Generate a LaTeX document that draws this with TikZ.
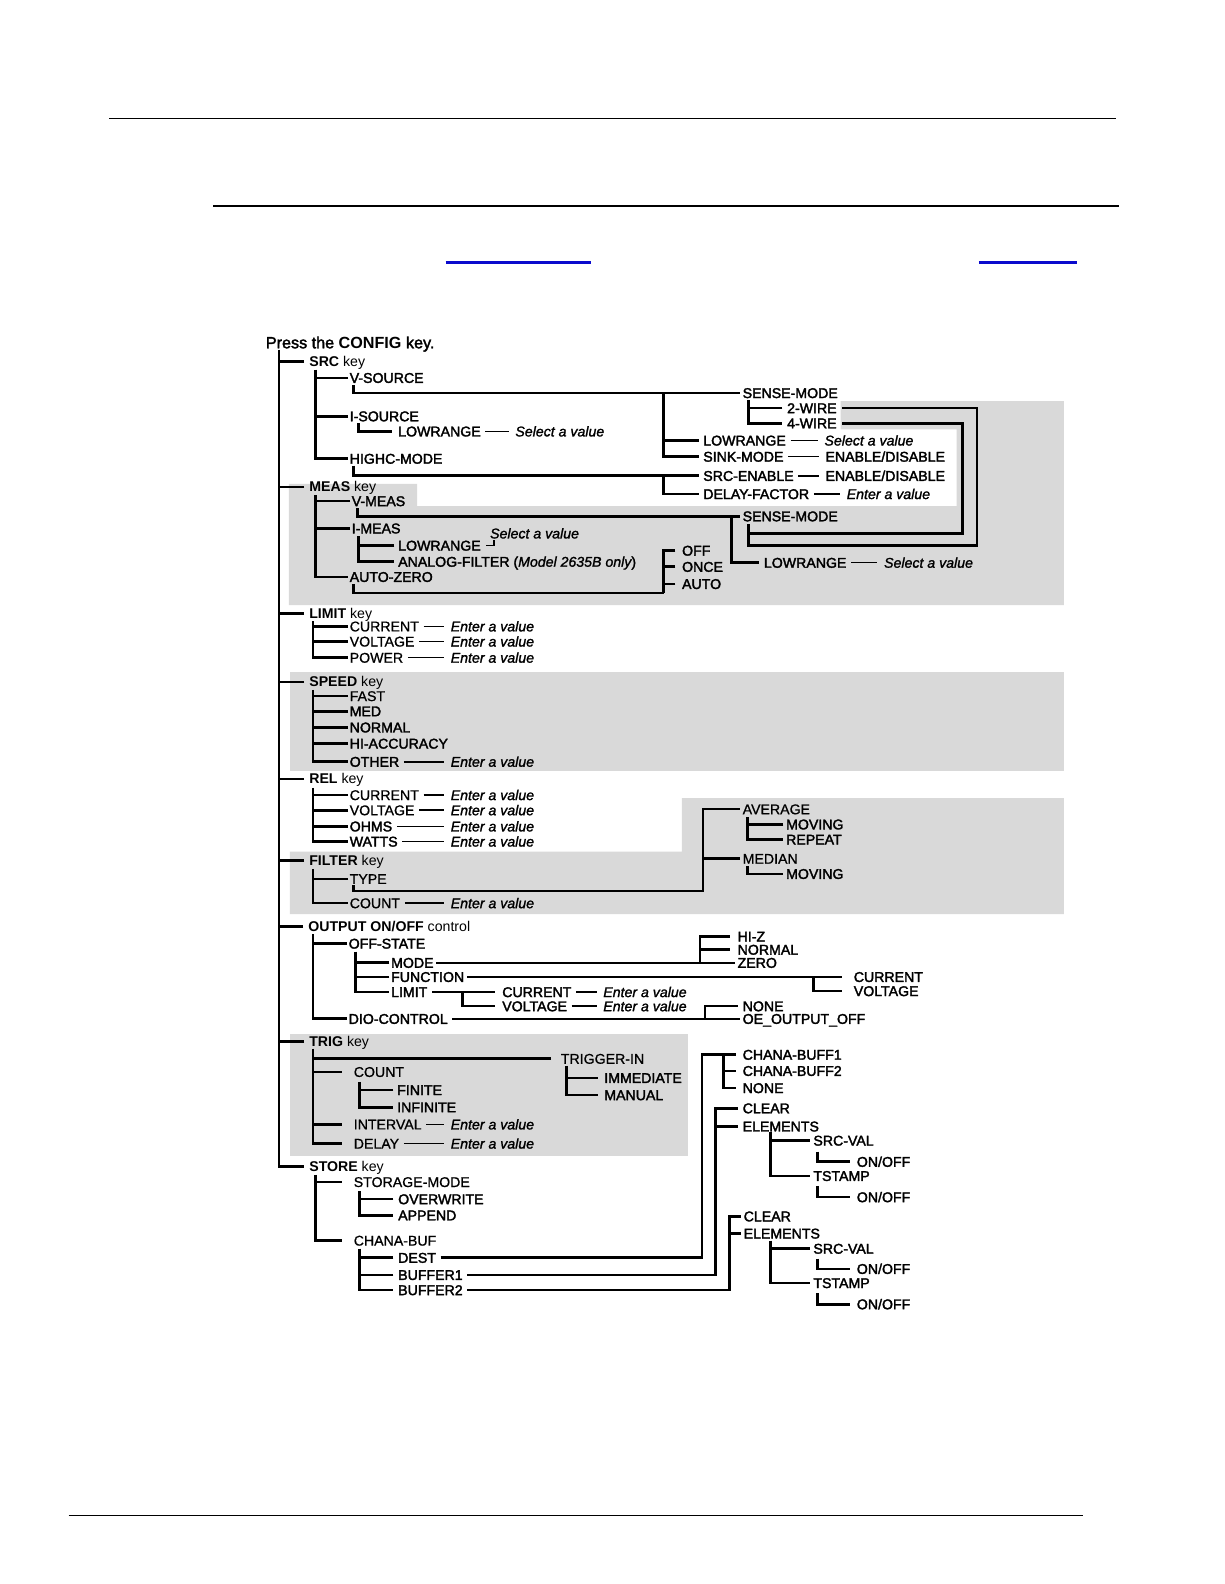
\documentclass[tikz,border=0pt]{standalone}
\usepackage{fontspec}
\usetikzlibrary{calc}
\newfontfamily\rfam[FakeBold=0.8]{Liberation Sans}
\newfontfamily\kfam{Liberation Sans}
\newfontfamily\mfam[FakeBold=2.2]{Liberation Sans}
\newfontfamily\ifam[FakeBold=1.4]{Liberation Sans}
\newcommand\myfs{\fontsize{14}{16}\selectfont}
\definecolor{boxgray}{RGB}{217,217,217}
\definecolor{linkblue}{RGB}{10,10,205}
\tikzset{
  lab/.style={anchor=west, inner xsep=1.5pt, inner ysep=0pt, text height=10pt, text depth=0pt, font=\mfam\myfs},
  tx/.style={lab, font=\rfam\myfs},
  it/.style={lab, font=\ifam\itshape\myfs},
  kn/.style={lab, inner xsep=5pt, font=\kfam\myfs},
  tl/.style={line width=2.6pt, line join=miter},
  ml/.style={line width=2pt},
  dl/.style={line width=1.6pt, shorten <=3pt, shorten >=5pt},
  mk/.style={line width=1.6pt},
  rl/.style={line width=1.3pt}
}
\begin{document}
\begin{tikzpicture}[x=1pt,y=-1pt]
\useasboundingbox (0,0) rectangle (1212,1568);
\fill[white] (0,0) rectangle (1212,1568);
% gray panels
\fill[boxgray] (286,479) -- (413,479) -- (413,501) -- (947,501) -- (947,425) -- (832,425) -- (832,397) -- (1053,397) -- (1053,599) -- (286,599) -- cycle;
\fill[boxgray] (287,665) rectangle (1053,763);
\fill[boxgray] (287,843) -- (675,843) -- (675,790) -- (1053,790) -- (1053,905) -- (287,905) -- cycle;
\fill[boxgray] (287,1024) rectangle (681,1144);
% page rules
\coordinate (r1a) at (108,117); \coordinate (r1b) at (1105,117);
\coordinate (r2a) at (211,204); \coordinate (r2b) at (1108,204);
\coordinate (r3a) at (68,1500); \coordinate (r3b) at (1072,1500);
\draw[rl] (r1a) -- (r1b);
\draw[rl] (r2a) -- (r2b);
\draw[rl] (r3a) -- (r3b);
\coordinate (b1a) at (441,260); \coordinate (b1b) at (585,260);
\coordinate (b2a) at (969,260); \coordinate (b2b) at (1066,260);
\draw[line width=2.4pt, linkblue] (b1a) -- (b1b);
\draw[line width=2.4pt, linkblue] (b2a) -- (b2b);

% title and main spine
\node[lab, font=\mfam\fontsize{16}{18}\selectfont, text height=11.5pt] (title) at (261.5,339) {Press the {\kfam\bfseries CONFIG} key.};
\node[kn] (src) at (301,358) {\textbf{SRC} key};
\node[kn] (meas) at (301,482) {\textbf{MEAS} key};
\node[kn] (limit) at (301,607) {\textbf{LIMIT} key};
\node[kn] (speed) at (301,675) {\textbf{SPEED} key};
\node[kn] (rel) at (301,771) {\textbf{REL} key};
\node[kn] (filt) at (301,852) {\textbf{FILTER} key};
\node[kn] (outp) at (300,917) {\textbf{OUTPUT ON/OFF} control};
\node[kn] (trig) at (301,1031) {\textbf{TRIG} key};
\node[kn] (store) at (301,1155) {\textbf{STORE} key};
\coordinate (sp0) at (276,346);
\draw[tl] (sp0) |- (store.west);
\foreach \k in {src,meas,limit,speed,rel,filt,outp,trig} {\draw[tl] (\k.west) -- (\k.west -| sp0);}

% ---------- SRC ----------
\node[lab] (vsrc) at (344.5,374) {V-SOURCE};
\node[lab] (isrc) at (344.5,412) {I-SOURCE};
\node[lab] (hcm) at (344.5,454) {HIGHC-MODE};
\coordinate (s1) at (312,366);
\draw[tl] (s1) |- (hcm.west);
\draw[tl] (vsrc.west) -- (vsrc.west -| s1);
\draw[tl] (isrc.west) -- (isrc.west -| s1);
\node[lab] (lrA) at (392.5,427) {LOWRANGE};
\node[it] (svA) at (508.5,427) {Select a value};
\draw[tl] ([xshift=10.5pt,yshift=-7pt]isrc.west) |- ([xshift=-4pt]lrA.west);
\draw[dl] (lrA.east) -- (svA.west);

\node[lab] (smA) at (733.5,389) {SENSE-MODE};
\draw[tl] ([xshift=5.5pt,yshift=-7pt]vsrc.west) |- ([xshift=-1pt]smA.west);
\node[lab] (w2) at (777.5,404) {2-WIRE};
\node[lab] (w4) at (777.5,419) {4-WIRE};
\coordinate (jA) at (741,396);
\draw[tl] (jA) |- ([xshift=-3pt]w4.west);
\draw[tl] ([xshift=-3pt]w2.west) -- (w2.west -| jA);
\node[lab] (lrB) at (694.5,436) {LOWRANGE};
\node[it] (svB) at (814.5,436) {Select a value};
\node[lab] (skm) at (694.5,452) {SINK-MODE};
\node[lab] (edA) at (815.5,452) {ENABLE/DISABLE};
\node[lab] (sen) at (694.5,471) {SRC-ENABLE};
\node[lab] (edB) at (815.5,471) {ENABLE/DISABLE};
\node[lab] (dfc) at (694.5,489) {DELAY-FACTOR};
\node[it] (evA) at (836.5,489) {Enter a value};
\coordinate (jB) at (657,389);
\draw[tl] (jB) |- ([xshift=-3pt]skm.west);
\draw[tl] ([xshift=-3pt]lrB.west) -- (lrB.west -| jB);
\draw[dl] (lrB.east) -- (svB.west);
\draw[dl] (skm.east) -- (edA.west);
\draw[dl] (sen.east) -- (edB.west);
\draw[dl] (dfc.east) -- (evA.west);
\draw[tl] ([xshift=5.5pt,yshift=-7pt]hcm.west) |- ([xshift=-3pt]sen.west);
\coordinate (jC) at (657,471);
\draw[tl] (jC) |- ([xshift=-3pt]dfc.west);

\node[lab] (smB) at (733.5,511) {SENSE-MODE};
\coordinate (lA) at (967,540);
\coordinate (lB) at (953,528);
\coordinate (jD) at (741,519);
\draw[tl] ([xshift=4pt]w2.east) -| (lA) -| (jD);
\draw[tl] ([xshift=4pt]w4.east) -| (lB) -- (lB -| jD);

% ---------- MEAS ----------
\node[lab] (vms) at (346.5,496) {V-MEAS};
\node[lab] (ims) at (346.5,523) {I-MEAS};
\node[lab] (azr) at (344.5,571) {AUTO-ZERO};
\coordinate (s2) at (312,490);
\draw[tl] (s2) |- (azr.west);
\draw[tl] (vms.west) -- (vms.west -| s2);
\draw[tl] (ims.west) -- (ims.west -| s2);
\draw[tl] ([xshift=7.5pt,yshift=-7pt]vms.west) |- ([xshift=-1pt]smB.west);
\coordinate (jE) at (724,511);
\node[lab] (lrC) at (754.5,557) {LOWRANGE};
\node[it] (svC) at (873.5,557) {Select a value};
\draw[tl] (jE) |- ([xshift=-3pt]lrC.west);
\draw[dl] (lrC.east) -- (svC.west);
\node[lab] (lrD) at (392.5,540) {LOWRANGE};
\node[lab] (afl) at (392.5,556) {ANALOG-FILTER ({\ifam\itshape Model 2635B only})};
\coordinate (jF) at (355,531);
\draw[tl] (jF) |- ([xshift=-2pt]afl.west);
\draw[tl] ([xshift=-2pt]lrD.west) -- (lrD.west -| jF);
\node[it] (svD) at (483.5,528) {Select a value};
\draw[mk] ([xshift=4pt]lrD.east) -| ([xshift=5.5pt,yshift=-1pt]svD.south west);
\node[lab] (off) at (673.5,545) {OFF};
\node[lab] (once) at (673.5,561) {ONCE};
\node[lab] (aut) at (673.5,578) {AUTO};
\coordinate (jG) at (657,587);
\draw[tl] ([xshift=-5pt]off.west) -| (jG);
\draw[tl] ([xshift=-5pt]once.west) -- (once.west -| jG);
\draw[tl] ([xshift=-5pt]aut.west) -- (aut.west -| jG);
\draw[tl] ([xshift=5.5pt,yshift=-7pt]azr.west) |- (jG);

% ---------- LIMIT ----------
\coordinate (s3) at (310,615);
\node[tx] (lcu) at (344.5,620) {CURRENT};
\node[tx] (lvo) at (344.5,635) {VOLTAGE};
\node[tx] (lpw) at (344.5,651) {POWER};
\draw[tl] (s3) |- (lpw.west);
\draw[tl] (lcu.west) -- (lcu.west -| s3);
\draw[tl] (lvo.west) -- (lvo.west -| s3);
\node[it] (le1) at (444.5,620) {Enter a value};
\node[it] (le2) at (444.5,635) {Enter a value};
\node[it] (le3) at (444.5,651) {Enter a value};
\draw[dl] (lcu.east) -- (le1.west);
\draw[dl] (lvo.east) -- (le2.west);
\draw[dl] (lpw.east) -- (le3.west);

% ---------- SPEED ----------
\coordinate (s4) at (310,683);
\node[tx] (fast) at (344.5,689) {FAST};
\node[lab] (med) at (344.5,704) {MED};
\node[lab] (nrml) at (344.5,720) {NORMAL};
\node[lab] (hacc) at (344.5,736) {HI-ACCURACY};
\node[lab] (oth) at (344.5,754) {OTHER};
\node[it] (le4) at (444.5,754) {Enter a value};
\draw[tl] (s4) |- (oth.west);
\foreach \k in {fast,med,nrml,hacc} {\draw[tl] (\k.west) -- (\k.west -| s4);}
\draw[dl] (oth.east) -- (le4.west);

% ---------- REL ----------
\coordinate (s5) at (310,780);
\node[tx] (rcu) at (344.5,787) {CURRENT};
\node[tx] (rvo) at (344.5,802) {VOLTAGE};
\node[lab] (roh) at (344.5,818) {OHMS};
\node[lab] (rwa) at (344.5,833) {WATTS};
\draw[tl] (s5) |- (rwa.west);
\foreach \k in {rcu,rvo,roh} {\draw[tl] (\k.west) -- (\k.west -| s5);}
\node[it] (le5) at (444.5,787) {Enter a value};
\node[it] (le6) at (444.5,802) {Enter a value};
\node[it] (le7) at (444.5,818) {Enter a value};
\node[it] (le8) at (444.5,833) {Enter a value};
\draw[dl] (rcu.east) -- (le5.west);
\draw[dl] (rvo.east) -- (le6.west);
\draw[dl] (roh.east) -- (le7.west);
\draw[dl] (rwa.east) -- (le8.west);

% ---------- FILTER ----------
\coordinate (s6) at (310,860);
\node[tx] (typ) at (344.5,870) {TYPE};
\node[tx] (fcn) at (344.5,894) {COUNT};
\node[it] (le9) at (444.5,894) {Enter a value};
\draw[tl] (s6) |- (fcn.west);
\draw[tl] (typ.west) -- (typ.west -| s6);
\draw[dl] (fcn.east) -- (le9.west);
\node[tx] (avg) at (733.5,801) {AVERAGE};
\node[lab] (mv1) at (776.5,816) {MOVING};
\node[lab] (rpt) at (776.5,831) {REPEAT};
\node[tx] (mdn) at (733.5,850) {MEDIAN};
\node[lab] (mv2) at (776.5,865) {MOVING};
\coordinate (jH) at (696,882);
\draw[tl] ([xshift=5.5pt,yshift=-6pt]typ.west) |- (jH) |- ([xshift=-1pt]avg.west);
\draw[tl] ([xshift=-1pt]mdn.west) -- (mdn.west -| jH);
\coordinate (jI) at (740,809);
\draw[tl] (jI) |- ([xshift=-1pt]rpt.west);
\draw[tl] ([xshift=-1pt]mv1.west) -- (mv1.west -| jI);
\coordinate (jJ) at (740,857);
\draw[tl] (jJ) |- ([xshift=-1pt]mv2.west);

% ---------- OUTPUT ----------
\coordinate (s7) at (310,925);
\node[lab] (ofs) at (343.5,934) {OFF-STATE};
\node[lab] (dio) at (343.5,1008.5) {DIO-CONTROL};
\draw[tl] (s7) |- (dio.west);
\draw[tl] (ofs.west) -- (ofs.west -| s7);
\coordinate (jK) at (352,942);
\node[lab] (mode) at (385.5,953) {MODE};
\node[lab] (func) at (385.5,967) {FUNCTION};
\node[lab] (olm) at (385.5,982) {LIMIT};
\draw[tl] (jK) |- (olm.west);
\draw[tl] (mode.west) -- (mode.west -| jK);
\draw[tl] (func.west) -- (func.west -| jK);
\node[lab] (hiz) at (728.5,927) {HI-Z};
\node[lab] (nrm) at (728.5,940) {NORMAL};
\node[lab] (zro) at (728.5,953) {ZERO};
\draw[ml] ([xshift=1pt]mode.east) -- ([xshift=-1pt]zro.west);
\coordinate (jL) at (693,953);
\draw[tl] ([xshift=-6pt]hiz.west) -| (jL);
\draw[tl] ([xshift=-6pt]nrm.west) -- (nrm.west -| jL);
\node[lab] (ocu) at (843.5,967) {CURRENT};
\node[lab] (ovo) at (843.5,981) {VOLTAGE};
\draw[ml] ([xshift=1pt]func.east) -- ([xshift=-10pt]ocu.west);
\coordinate (jM) at (805,967);
\draw[tl] (jM) |- ([xshift=-10pt]ovo.west);
\node[lab] (lcu2) at (495.5,982) {CURRENT};
\node[lab] (lvo2) at (495.5,996) {VOLTAGE};
\draw[ml] ([xshift=3pt]olm.east) -- ([xshift=-6pt]lcu2.west);
\coordinate (jN) at (458,982);
\draw[tl] (jN) |- ([xshift=-6pt]lvo2.west);
\node[it] (le10) at (595.5,982) {Enter a value};
\node[it] (le11) at (595.5,996) {Enter a value};
\draw[dl] (lcu2.east) -- (le10.west);
\draw[dl] (lvo2.east) -- (le11.west);
\node[lab] (nne) at (733.5,996) {NONE};
\node[lab] (oeo) at (733.5,1008.5) {OE\_OUTPUT\_OFF};
\draw[ml] ([xshift=3pt]dio.east) -- ([xshift=-1pt]oeo.west);
\coordinate (jO) at (698,1008.5);
\draw[tl] ([xshift=-3pt]nne.west) -| (jO);

% ---------- TRIG ----------
\coordinate (s8) at (310,1038);
\node[tx] (tri) at (553.5,1048) {TRIGGER-IN};
\node[tx] (cnt) at (348.5,1061) {COUNT};
\node[tx] (itv) at (348.5,1113) {INTERVAL};
\node[tx] (dly) at (348.5,1132) {DELAY};
\draw[tl, shorten >=10pt] (s8) |- (dly.west);
\draw[tl, shorten <=8pt] (tri.west) -- (tri.west -| s8);
\draw[tl, shorten <=10pt] (cnt.west) -- (cnt.west -| s8);
\draw[tl, shorten <=10pt] (itv.west) -- (itv.west -| s8);
\node[lab] (fin) at (391.5,1079) {FINITE};
\node[lab] (inf) at (391.5,1096) {INFINITE};
\coordinate (jP) at (356,1071);
\draw[tl] (jP) |- ([xshift=-2pt]inf.west);
\draw[tl] ([xshift=-2pt]fin.west) -- (fin.west -| jP);
\node[it] (le12) at (444.5,1113) {Enter a value};
\node[it] (le13) at (444.5,1132) {Enter a value};
\draw[dl] (itv.east) -- (le12.west);
\draw[dl] (dly.east) -- (le13.west);
\node[lab] (imm) at (596.5,1067) {IMMEDIATE};
\node[lab] (man) at (596.5,1084) {MANUAL};
\coordinate (jQ) at (561,1055);
\draw[tl] (jQ) |- ([xshift=-5pt]man.west);
\draw[tl] ([xshift=-5pt]imm.west) -- (imm.west -| jQ);

% ---------- STORE ----------
\coordinate (s9) at (312,1163);
\node[tx] (stm) at (348.5,1170) {STORAGE-MODE};
\node[tx] (chb) at (348.5,1228) {CHANA-BUF};
\draw[tl, shorten >=10pt] (s9) |- (chb.west);
\draw[tl, shorten <=10pt] (stm.west) -- (stm.west -| s9);
\node[lab] (ovw) at (392.5,1187) {OVERWRITE};
\node[lab] (apd) at (392.5,1203) {APPEND};
\coordinate (jR) at (356,1179);
\draw[tl] (jR) |- ([xshift=-3pt]apd.west);
\draw[tl] ([xshift=-3pt]ovw.west) -- (ovw.west -| jR);
\node[lab] (dst) at (392.5,1245) {DEST};
\node[lab] (bfa) at (392.5,1262) {BUFFER1};
\node[lab] (bfb) at (392.5,1277) {BUFFER2};
\coordinate (jS) at (356,1236);
\draw[tl] (jS) |- ([xshift=-3pt]bfb.west);
\draw[tl] ([xshift=-3pt]dst.west) -- (dst.west -| jS);
\draw[tl] ([xshift=-3pt]bfa.west) -- (bfa.west -| jS);
% DEST targets
\node[lab] (cb1) at (733.5,1044) {CHANA-BUFF1};
\node[lab] (cb2) at (733.5,1060) {CHANA-BUFF2};
\node[lab] (nn2) at (733.5,1077) {NONE};
\coordinate (vA) at (695,1044);
\draw[tl] ([xshift=3pt]dst.east) -| (vA) -- ([xshift=-5pt]cb1.west);
\coordinate (jT) at (716,1044);
\draw[tl] (jT) |- ([xshift=-5pt]nn2.west);
\draw[tl] ([xshift=-5pt]cb2.west) -- (cb2.west -| jT);
% BUFFER1 targets
\node[lab] (clA) at (733.5,1097) {CLEAR};
\node[lab] (elA) at (733.5,1115) {ELEMENTS};
\coordinate (vB) at (708,1097);
\draw[tl] ([xshift=3pt]bfa.east) -| (vB) -- ([xshift=-3pt]clA.west);
\draw[tl] ([xshift=-3pt]elA.west) -- (elA.west -| vB);
\node[lab] (svE) at (803.5,1129) {SRC-VAL};
\node[lab] (tsA) at (803.5,1164) {TSTAMP};
\coordinate (jU) at (763,1121);
\draw[tl] (jU) |- ([xshift=-2pt]tsA.west);
\draw[tl] ([xshift=-2pt]svE.west) -- (svE.west -| jU);
\node[lab] (ooA) at (846.5,1150) {ON/OFF};
\node[lab] (ooB) at (846.5,1185) {ON/OFF};
\coordinate (jV) at (809,1140);
\coordinate (jW) at (809,1174);
\draw[tl] (jV) |- ([xshift=-5pt]ooA.west);
\draw[tl] (jW) |- ([xshift=-5pt]ooB.west);
% BUFFER2 targets
\node[lab] (clB) at (734.5,1204) {CLEAR};
\node[lab] (elB) at (734.5,1221) {ELEMENTS};
\coordinate (vC) at (722,1204);
\draw[tl] ([xshift=3pt]bfb.east) -| (vC) -- ([xshift=-1pt]clB.west);
\draw[tl] ([xshift=-1pt]elB.west) -- (elB.west -| vC);
\node[lab] (svF) at (803.5,1236) {SRC-VAL};
\node[lab] (tsB) at (803.5,1270) {TSTAMP};
\coordinate (jX) at (763,1228);
\draw[tl] (jX) |- ([xshift=-2pt]tsB.west);
\draw[tl] ([xshift=-2pt]svF.west) -- (svF.west -| jX);
\node[lab] (ooC) at (846.5,1256) {ON/OFF};
\node[lab] (ooD) at (846.5,1291) {ON/OFF};
\coordinate (jY) at (809,1246);
\coordinate (jZ) at (809,1280);
\draw[tl] (jY) |- ([xshift=-5pt]ooC.west);
\draw[tl] (jZ) |- ([xshift=-5pt]ooD.west);
\end{tikzpicture}
\end{document}
